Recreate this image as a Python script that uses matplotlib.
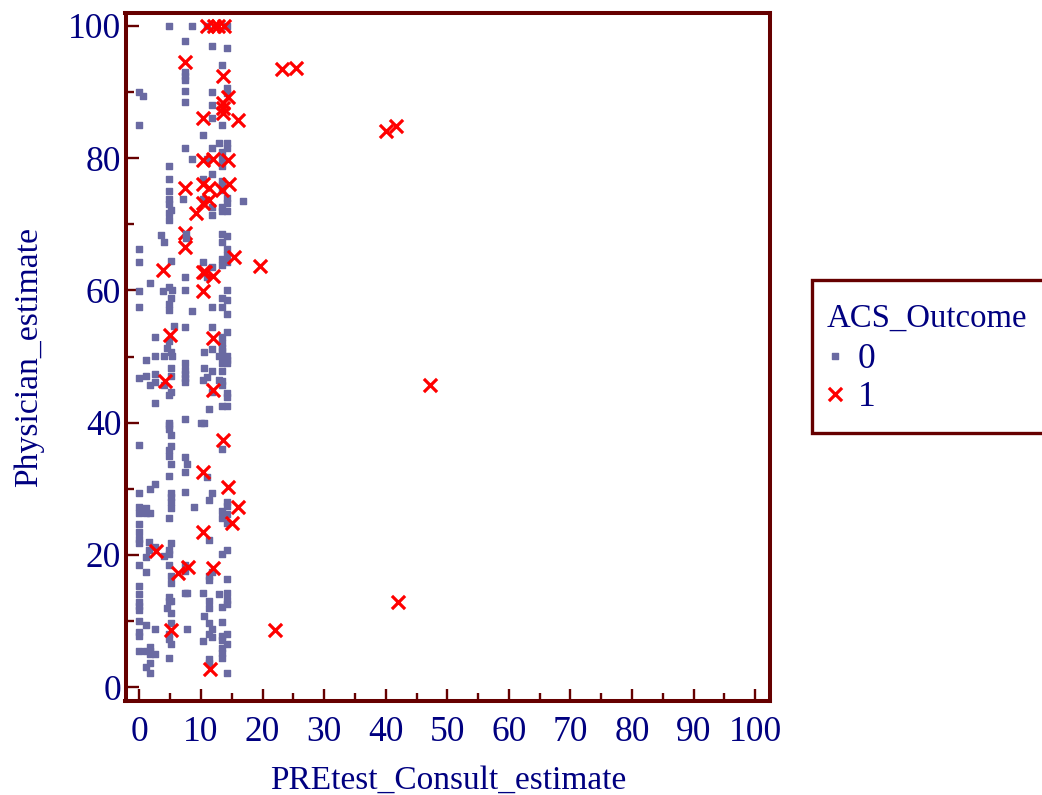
import matplotlib
matplotlib.use("Agg")
import matplotlib.pyplot as plt
from matplotlib.markers import MarkerStyle
from matplotlib.patches import Rectangle
from matplotlib.ticker import MultipleLocator

plt.rcParams['font.family'] = ['Liberation Serif', 'DejaVu Serif']

outcome0 = [
 (4.85,100),(8.45,100),(10.9,100),(14.25,100),
 (7.35,97.7),(11.8,96.9),(14.25,96.7),(13.4,94.15),(7.35,93.1),(7.35,92.4),(7.35,91.8),(14.25,90.6),(14.25,89.9),(0,90),(0.6,89.35),(7.35,90.15),(11.8,90),(7.35,88.5),(11.8,88.1),(11.8,86),(0,85),(13.4,85),(10.25,83.5),(7.35,81.6),(11.8,81.6),(12.9,82.25),(14.25,82.25),(14.25,81.6),(13.4,81),(8.45,79.9),(10.9,79.9),(13.4,79.9),(13.4,78.85),(4.85,78.85),(11.8,77.65),
 (4.85,76.8),(10.25,76.8),(13.4,76.6),(13.4,75.9),(13.4,75.2),(4.85,75.1),(4.85,73.8),(7.1,73.85),(10.25,73.8),(14.25,73.9),(14.25,73.25),(13.4,72.65),(16.75,73.45),(4.85,73),(5.05,72.2),(4.85,71.75),(11.8,72.65),(13.4,72.05),(14.25,72.05),(11.8,71.4),(4.85,70.7),(3.5,68.4),(7.55,68.6),(7.55,67.95),(13.4,68.6),(14.25,68.2),(4,67.35),(13.4,67.35),(0,66.3),(14.25,66.3),(0,64.25),(5.05,64.45),(10.25,64.25),(13.4,64.7),(14.25,65.3),(13.4,63.85),(14.25,64.25),(11.8,63.6),(7.35,61.95),(10.9,61.95),(1.7,61.1),(4.85,60.5),(5.3,60.05),(3.8,59.85),(0,59.85),(7.35,60.05),(14.25,60.05),(5.05,58.85),(13.4,58.85),(14.25,58.6),(4.85,57.9),(4.85,57.1),(0,57.5),(8.45,56.9),(11.8,57.5),(13.4,57.5),(14.25,56.45),(5.55,54.6),(7.35,54.4),(11.8,54.4),(2.6,52.95),(14.25,53.75),(13.4,52.95),(4.85,52.35),(13.4,52.1),(4.4,51.3),(13.4,51.3),(11.8,51.1),
 (13.4,50.9),(5.05,50.7),(10.5,50.7),(2.6,50.05),(4,50.05),(5.3,50.05),(12.9,50.05),(14.25,50.05),(13.6,50.05),(14.25,49.4),(13.4,49),(14.25,49),(1.05,49.4),(7.35,49),(5.05,48.3),(10.5,48.3),(7.35,47.95),(11.8,47.75),(13.4,47.75),(7.35,47.3),(2.6,47.3),(1.05,47.1),(5.05,47.1),(10.9,46.9),(0,46.7),(7.35,46.7),(10.25,46.45),(12.9,46.45),(7.35,46.1),(2.6,46.1),(1.7,45.65),(4,45.65),(13.4,46.25),(13.4,45.65),(5.05,44.6),(4.85,44.2),(11.8,44.6),(14.25,44.45),(14.25,43.85),(2.6,42.9),(13.4,42.5),(14.25,42.5),(11.35,42.05),(7.35,40.6),(9.95,40),(10.4,40),(4.85,40),(4.85,39.6),(4.85,39),(5.05,38.15),(0,36.6),(5.05,36.45),(4.85,35.85),(4.85,35),(13.4,36),(7.35,34.8),(7.75,33.7),(5.05,33.7),(7.35,32.6),(4.85,32),(10.9,31.8),(2.6,30.75),(1.7,30),(0,29.3),(5.05,29.3),(7.35,29.5),(11.8,29.3),(5.05,28.7),(11.35,28.25),(5.05,28.05),(14.25,28.05),(14.25,27.45),(5.05,27.05),(8.9,27.2),(0,27.2),(1.05,27.05),(0,26.4),(1.05,26.4),(1.7,26.4),(13.4,26.6),(14.25,26.2),(4.85,25.6),(13.4,25.6),
 (14.25,24.75),(0,24.7),(0,23.45),(0,22.45),(0,21.75),(1.5,21.9),(5.05,21.75),(11.35,22.2),(2.6,21.25),(1.5,20.75),(4.85,20.75),(14.25,20.75),(13.4,20.1),(4.85,20.1),(4,19.9),(1.05,19.7),(0,18.45),(4.85,18.45),(7.35,18.45),(1.05,17.4),(7.35,17.6),(11.8,17.4),(5.05,16.8),(11.35,16.8),(11.35,16.2),(14.25,16.35),(5.05,15.7),(0,15.3),(0,14.05),(7.35,14.25),(7.75,14.25),(10.25,14.25),(12.9,14.05),(14.25,14.25),(4.85,13.65),(4.85,13),(5.05,13),(11.35,13),(14.25,13.25),(14.25,12.6),(0,12.8),(0,12.2),(0,11.65),(4.4,11.95),(11.35,11.95),(13.4,12.15),(5.05,11.15),(10.5,10.75),(0,10),(13.4,9.85),(1.05,9.45),(5.05,9.7),(11.35,9.65),(2.6,8.8),(7.75,8.8),(11.8,8.8),(0,8.4),(0,7.8),(4.85,8.1),(11.35,8.1),(14.25,8.1),(11.8,7.55),(13.4,7.8),(13.4,7.15),(4.85,7.35),(5.05,6.5),(10.25,6.9),(14.25,6.5),(13.4,5.85),(13.4,5.1),(13.4,4.4),(0,5.45),(1.05,5.45),(1.7,6),(1.7,5.45),(2.6,5.05),(1.7,5.05),(4.85,4.4),(11.35,4.2),(1.7,3.6),(11.35,3.6),(1.05,3),(1.7,2.1),(14.25,2.1),
]
outcome1 = [
 (10.95,100),(12.1,100),(12.75,100),(13.7,100),
 (7.45,94.5),(13.5,92.4),(14.4,89.3),(13.5,88.3),(13.5,87.55),(13.5,86.9),(10.35,86.1),(15.95,85.75),(23.1,93.5),(25.4,93.65),(40,84.1),(41.65,84.9),
 (10.3,79.7),(11.95,79.9),(14.35,79.7),(7.45,75.45),(10.25,76.1),(11.35,75.45),(14.6,76.1),(13.35,75.2),(10.25,73.2),(11.35,73.7),(9.15,71.75),
 (7.45,66.55),(15.35,65.1),(19.55,63.7),(3.75,63.1),(10.25,62.85),(10.7,62.85),(12,62.2),(10.35,59.85),(4.95,53.25),(11.9,52.8),
 (4.15,46.35),(11.9,45),(47.15,45.7),(13.5,37.35),(10.35,32.5),(14.4,30.25),(15.95,27.3),(15.05,24.75),(10.35,23.45),(2.7,20.6),(7.9,18.2),(6.2,17.2),(11.9,17.95),(5.2,8.6),(22,8.6),(41.95,12.85),(11.45,2.7),
]
outcome1_behind = [(7.45,68.7)]
legend_title = "ACS_Outcome"
x_label = "PREtest_Consult_estimate"
y_label = "Physician_estimate"

W, H = 1042, 795
NAVY = '#000080'
MAROON = '#660000'
GREY = '#6A6AA2'

fig = plt.figure(figsize=(W/100, H/100), dpi=100, facecolor='white')
ax = fig.add_axes([125.5/W, 1-701/H, (770-125.5)/W, (701-13)/H])

sq = MarkerStyle('s', joinstyle='round')
x_style = dict(marker='x', s=90, c='#FF0000', linewidths=2.3)
ax.scatter(*zip(*outcome1_behind), zorder=1, **x_style)
h0 = ax.scatter(*zip(*outcome0), marker=sq, s=20, c=GREY, edgecolors=GREY, linewidths=1, zorder=2, label='0')
h1 = ax.scatter(*zip(*outcome1), zorder=3, label='1', **x_style)

for s in ax.spines.values():
    s.set_color(MAROON)
    s.set_linewidth(2.9)
ax.xaxis.set_major_locator(MultipleLocator(10))
ax.xaxis.set_minor_locator(MultipleLocator(5))
ax.yaxis.set_major_locator(MultipleLocator(20))
ax.yaxis.set_minor_locator(MultipleLocator(10))
ax.tick_params(which='major', direction='in', length=9, width=1.7, color=MAROON,
               labelcolor=NAVY, labelsize=25.5, top=False, right=False)
ax.tick_params(which='minor', direction='in', length=5.5, width=1.7, color=MAROON, top=False, right=False)
ax.tick_params(axis='x', which='major', pad=10.5)
ax.tick_params(axis='y', which='major', pad=3)
ax.set_xlim(-2.27, 102.4)
ax.set_ylim(-2.1, 101.95)
ax.set_xlabel(x_label, color=NAVY, fontsize=24, labelpad=12)
ax.set_ylabel(y_label, color=NAVY, fontsize=24.2, labelpad=17.5)

fig.add_artist(Rectangle((812/W, 1-433/H), 260/W, 153/H, transform=fig.transFigure,
                         facecolor='white', edgecolor=MAROON, linewidth=2.4, zorder=2))
leg = fig.legend(handles=[h0, h1], title=legend_title, loc='upper left',
                 bbox_to_anchor=(827/W, 1-303/H), bbox_transform=fig.transFigure,
                 frameon=False, fontsize=25.5, title_fontsize=23.6, labelcolor=NAVY, alignment='left',
                 borderaxespad=0, borderpad=0, labelspacing=0.135, handletextpad=0.42, handlelength=0.45,
                 scatterpoints=1, scatteryoffsets=[0.5])
leg._legend_box.sep = 7.0
leg.set_zorder(3)
leg.get_title().set_color(NAVY)
fig.savefig('out.png', dpi=100)
